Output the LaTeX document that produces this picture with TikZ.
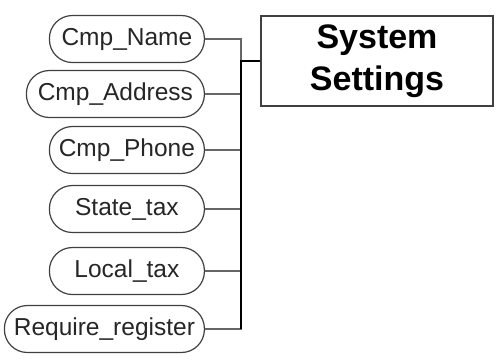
\documentclass[tikz,border=0pt]{standalone}
\usepackage{fontspec}
\setmainfont{Liberation Sans}
\begin{document}
\begin{tikzpicture}[x=1pt,y=-1pt]
	\tikzstyle{field} = [draw=black!75,line width=1.2pt,rounded corners=23pt,minimum height=47pt,inner sep=0pt,anchor=east,font=\fontsize{24.5}{28}\selectfont,text=black!85]
	\tikzstyle{table} = [draw=black!75,line width=1.2pt,minimum width=232pt,minimum height=90pt,align=center,font=\fontsize{34}{42}\selectfont\bfseries]
	\tikzstyle{link} = [draw=black!60,line width=1.3pt]
	\tikzstyle{bus} = [draw=black,line width=1.8pt]
	\useasboundingbox (0,0) rectangle (500,360);
	\node (settings) [table] at (377,61) {System\\Settings};
	\node (name) [field,minimum width=155pt] at (205,39) {Cmp\_Name};
	\node (address) [field,minimum width=178pt] at (205,94) {Cmp\_Address};
	\node (phone) [field,minimum width=155pt] at (205,150) {Cmp\_Phone};
	\node (state) [field,minimum width=155pt] at (205,209) {State\_tax};
	\node (local) [field,minimum width=155pt] at (205,271) {Local\_tax};
	\node (register) [field,minimum width=200pt] at (205,329) {Require\_register};
	\coordinate (joint) at (241,61);
	
	\draw[link] (name.east) -| (joint);
	\draw[link] (address.east) -| (joint);
	\draw[link] (phone.east) -| (joint);
	\draw[link] (state.east) -| (joint);
	\draw[link] (local.east) -| (joint);
	\draw[link] (register.east) -| (joint);
	\draw[bus] (settings.west) -- (joint) -- (joint |- register.east);
\end{tikzpicture}
\end{document}
